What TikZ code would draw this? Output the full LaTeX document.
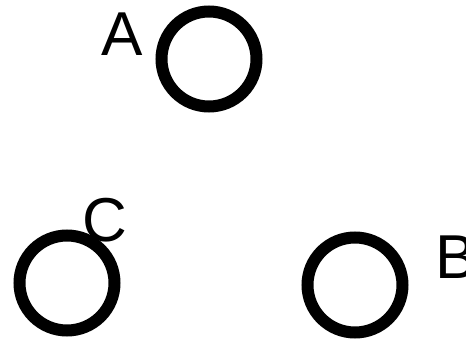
\documentclass[tikz,border=0pt]{standalone}
\usepackage{fontspec}
\setmainfont{Liberation Sans}
\begin{document}
\begin{tikzpicture}[x=1pt, y=-1pt,
		ring/.style = {circle, draw, line width = 12pt, minimum size = 95pt, inner sep = 0pt},
		letter/.style = {font = \fontsize{62}{62}\selectfont, inner sep = 0pt}]
		\useasboundingbox (0,0) rectangle (466,339);
		\node [ring] (a) at (209,59) {};
		\node [ring] (c) at (67,283) {};
		\node [ring] (b) at (355,285) {};
		\node [letter] (labelA) at (122.5,34.5) {A};
		\node [letter] (labelC) at (105,220.5) {C};
		\node [letter] (labelB) at (456,257.5) {B};
	\end{tikzpicture}
\end{document}
